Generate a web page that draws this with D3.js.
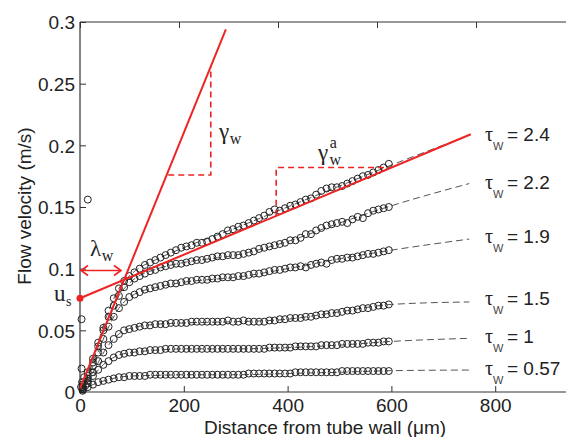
<!DOCTYPE html>
<html><head><meta charset="utf-8">
<script src="https://cdn.jsdelivr.net/npm/d3@7"></script>
<style>body{margin:0;background:#fff}svg{display:block}</style>
</head><body>
<svg id="c" width="566" height="437"></svg>
<script>
const distance = [5,15,25,35,45,55,65,75,85,95,105,115,125,135,145,155,165,175,185,195,205,215,225,235,245,255,265,275,285,295,305,315,325,335,345,355,365,375,385,395,405,415,425,435,445,455,465,475,485,495,505,515,525,535,545,555,565,575,585,595];
const tau24 = [0.006,0.016,0.027,0.040,0.052,0.066,0.076,0.084,0.090,0.094,0.097,0.100,0.103,0.105,0.107,0.109,0.111,0.113,0.115,0.117,0.118,0.119,0.121,0.121,0.122,0.124,0.126,0.128,0.131,0.132,0.134,0.135,0.137,0.139,0.141,0.143,0.146,0.148,0.147,0.149,0.151,0.152,0.154,0.156,0.157,0.160,0.163,0.165,0.166,0.166,0.167,0.169,0.171,0.173,0.175,0.176,0.178,0.180,0.182,0.185];
const tau22 = [0.004,0.013,0.024,0.037,0.050,0.061,0.070,0.078,0.085,0.089,0.092,0.094,0.096,0.098,0.099,0.101,0.102,0.103,0.104,0.104,0.105,0.106,0.107,0.107,0.108,0.109,0.110,0.110,0.111,0.111,0.111,0.112,0.113,0.114,0.116,0.117,0.118,0.119,0.120,0.121,0.123,0.123,0.125,0.128,0.128,0.131,0.133,0.135,0.136,0.137,0.138,0.137,0.140,0.142,0.141,0.145,0.147,0.148,0.149,0.150];
const tau19 = [0.004,0.011,0.021,0.032,0.043,0.053,0.061,0.068,0.073,0.077,0.079,0.081,0.083,0.084,0.085,0.086,0.087,0.088,0.088,0.089,0.090,0.090,0.091,0.091,0.091,0.092,0.092,0.093,0.093,0.093,0.094,0.094,0.095,0.096,0.096,0.097,0.098,0.099,0.099,0.100,0.101,0.101,0.102,0.101,0.103,0.104,0.105,0.104,0.107,0.108,0.108,0.109,0.109,0.110,0.111,0.112,0.112,0.113,0.114,0.115];
const tau15 = [0.003,0.009,0.016,0.025,0.032,0.038,0.043,0.047,0.050,0.051,0.052,0.053,0.054,0.054,0.055,0.055,0.055,0.056,0.056,0.056,0.056,0.057,0.057,0.057,0.057,0.057,0.057,0.057,0.058,0.057,0.057,0.058,0.057,0.057,0.057,0.057,0.058,0.058,0.059,0.059,0.060,0.060,0.060,0.061,0.061,0.062,0.063,0.063,0.064,0.064,0.065,0.066,0.066,0.067,0.068,0.068,0.069,0.070,0.070,0.071];
const tau10 = [0.002,0.007,0.013,0.018,0.022,0.025,0.028,0.030,0.031,0.032,0.032,0.033,0.033,0.034,0.034,0.034,0.035,0.035,0.035,0.035,0.035,0.035,0.035,0.035,0.035,0.035,0.035,0.035,0.035,0.035,0.035,0.035,0.035,0.035,0.035,0.035,0.036,0.036,0.036,0.036,0.036,0.037,0.037,0.037,0.037,0.037,0.038,0.038,0.038,0.038,0.039,0.039,0.039,0.039,0.039,0.040,0.040,0.040,0.041,0.041];
const tau057 = [0.001,0.004,0.006,0.008,0.009,0.010,0.011,0.012,0.012,0.013,0.013,0.013,0.013,0.014,0.014,0.014,0.014,0.014,0.014,0.014,0.014,0.014,0.014,0.014,0.014,0.014,0.014,0.014,0.014,0.014,0.014,0.014,0.015,0.015,0.015,0.015,0.015,0.015,0.015,0.015,0.015,0.016,0.016,0.016,0.016,0.016,0.016,0.016,0.016,0.016,0.017,0.017,0.017,0.017,0.017,0.017,0.017,0.017,0.017,0.017];
const extraX = [3,3,15,4,8,10,6,2];
const extraV = [0.019,0.059,0.156,0.008,0.012,0.005,0.002,0.004];

const fitX = [0,25,50,75,100,150,200,300,400,500,600,750];
const fit24 = [0,0.027,0.060,0.084,0.096,0.108,0.117,0.133,0.150,0.167,0.184,0.208];
const fit22 = [0,0.024,0.056,0.078,0.090,0.100,0.105,0.111,0.122,0.137,0.151,0.169];
const fit19 = [0,0.021,0.048,0.068,0.078,0.085,0.089,0.093,0.100,0.108,0.115,0.124];
const fit15 = [0,0.016,0.035,0.047,0.052,0.055,0.056,0.057,0.059,0.065,0.071,0.073];
const fit10 = [0,0.013,0.024,0.030,0.032,0.034,0.035,0.035,0.036,0.038,0.041,0.0435];
const fit057 = [0,0.006,0.0095,0.012,0.013,0.0135,0.014,0.014,0.015,0.016,0.0173,0.0178];

const tauLabels = ["2.4","2.2","1.9","1.5","1","0.57"];
const tauLabelV = [0.2038,0.1650,0.1205,0.0705,0.0400,0.0138];

const xTicks = [0,200,400,600,800];
const yTicks = [0,0.05,0.1,0.15,0.2,0.25,0.3];

const steepLine = [[0,0.003],[281,0.294]];
const slipLine = [[0,0.076],[753,0.209]];
const gammaTri = [[170,0.176],[252,0.176],[252,0.264]];
const gammaATri = [[378,0.143],[378,0.182],[590,0.182]];
const lambdaArrow = [[0,0.0985],[79,0.0985]];

const svg = d3.select("#c");
const x = d3.scaleLinear().domain([0,1000]).range([80,599]);
const xTop = d3.scaleLinear().domain([0,1000]).range([80,575]);
const y = d3.scaleLinear().domain([0,0.3]).range([392,22]);
const RED = "#ee2424";
const sans = "Arial, 'Liberation Sans', sans-serif";
const serif = "'Times New Roman', 'Liberation Serif', serif";

// frame
svg.append("line").attr("x1",80).attr("x2",566).attr("y1",y(0)).attr("y2",y(0)).attr("stroke","#333").attr("stroke-width",1.2);
svg.append("line").attr("x1",80).attr("x2",566).attr("y1",y(0.3)).attr("y2",y(0.3)).attr("stroke","#333").attr("stroke-width",1.2);
svg.append("line").attr("x1",80).attr("x2",80).attr("y1",y(0)).attr("y2",y(0.3)).attr("stroke","#333").attr("stroke-width",1.2);

// axes
const gx = svg.append("g").attr("transform",`translate(0,${y(0)})`)
  .call(d3.axisBottom(x).tickValues(xTicks).tickSizeInner(-6).tickSizeOuter(0).tickPadding(6.5).tickFormat(d3.format("d")));
const gxt = svg.append("g").attr("transform",`translate(0,${y(0.3)})`)
  .call(d3.axisTop(xTop).tickValues(xTicks).tickSizeInner(-6).tickSizeOuter(0).tickFormat(""));
const gy = svg.append("g").attr("transform","translate(80,0)")
  .call(d3.axisLeft(y).tickValues(yTicks).tickSizeInner(-6).tickSizeOuter(0).tickPadding(5).tickFormat(d=>d===0?"0":String(+d.toFixed(2))));
[gx,gxt,gy].forEach(g=>{
  g.select(".domain").remove();
  g.selectAll(".tick line").attr("stroke","#333").attr("stroke-width",1);
  g.selectAll("text").attr("font-family",sans).attr("font-size",19).attr("fill","#222");
});
gx.selectAll("text").attr("dy","0.71em");
gy.selectAll("text").attr("dy","0.36em");

// fitted dashed curves
const fits = [fit24,fit22,fit19,fit15,fit10,fit057];
const line = d3.line().x(d=>x(d[0])).y(d=>y(d[1])).curve(d3.curveMonotoneX);
fits.forEach(f=>{
  svg.append("path").attr("d",line(fitX.map((xx,i)=>[xx,f[i]])))
    .attr("fill","none").attr("stroke","#555").attr("stroke-width",1).attr("stroke-dasharray","7,4");
});

// data circles
const series = [tau24,tau22,tau19,tau15,tau10,tau057];
series.forEach(s=>{
  svg.append("g").selectAll("circle").data(distance.map((d,i)=>[d,s[i]])).join("circle")
    .attr("cx",d=>x(d[0])).attr("cy",d=>y(d[1])).attr("r",3.5)
    .attr("fill","none").attr("stroke","#222").attr("stroke-width",1);
});
svg.append("g").selectAll("circle").data(extraX.map((d,i)=>[d,extraV[i]])).join("circle")
  .attr("cx",d=>x(d[0])).attr("cy",d=>y(d[1])).attr("r",3.5)
  .attr("fill","none").attr("stroke","#222").attr("stroke-width",1);

// red annotation lines
const straight = d3.line().x(d=>x(d[0])).y(d=>y(d[1]));
svg.append("path").attr("d",straight(steepLine)).attr("stroke",RED).attr("stroke-width",2).attr("fill","none");
svg.append("path").attr("d",straight(slipLine)).attr("stroke",RED).attr("stroke-width",2).attr("fill","none");
svg.append("path").attr("d",straight(gammaTri)).attr("stroke",RED).attr("stroke-width",1.6).attr("fill","none").attr("stroke-dasharray","6,4");
svg.append("path").attr("d",straight(gammaATri)).attr("stroke",RED).attr("stroke-width",1.6).attr("fill","none").attr("stroke-dasharray","6,4");
svg.append("circle").attr("cx",x(slipLine[0][0])).attr("cy",y(slipLine[0][1])).attr("r",3.5).attr("fill",RED);

// lambda arrow
const ax0 = x(lambdaArrow[0][0]), ax1 = x(lambdaArrow[1][0]), ay = y(lambdaArrow[0][1]);
svg.append("line").attr("x1",ax0+1).attr("x2",ax1).attr("y1",ay).attr("y2",ay).attr("stroke",RED).attr("stroke-width",1.6);
svg.append("path").attr("d",`M${ax0+8},${ay-5}L${ax0+1},${ay}L${ax0+8},${ay+5}`).attr("stroke",RED).attr("stroke-width",1.6).attr("fill","none");
svg.append("path").attr("d",`M${ax1-7},${ay-5}L${ax1},${ay}L${ax1-7},${ay+5}`).attr("stroke",RED).attr("stroke-width",1.6).attr("fill","none");

// symbol labels (single text elements with tspans)
function sym(px,py,main,sub,sup,size,subSize){
  const t = svg.append("text").attr("x",px).attr("y",py).attr("font-family",serif).attr("font-size",size).attr("fill","#222");
  t.append("tspan").text(main);
  if(sup){
    t.append("tspan").attr("font-size",subSize).attr("dx",1.5).attr("dy",-12).text(sup);
    t.append("tspan").attr("font-size",subSize).attr("dx",-subSize*0.45).attr("dy",17).text(sub);
  } else if(sub){
    t.append("tspan").attr("font-size",subSize).attr("dx",0.5).attr("dy",5).text(sub);
  }
}
sym(90,256,"λ","w",null,23,16);
sym(54,301,"u","s",null,23,14);
sym(219,139,"γ","w",null,23,16);
sym(318,160,"γ","w","a",23,16);

// tau labels
tauLabels.forEach((lab,i)=>{
  const py = y(tauLabelV[i]);
  const t = svg.append("text").attr("x",485).attr("y",py).attr("fill","#222");
  t.append("tspan").attr("font-family",serif).attr("font-size",20).text("τ");
  t.append("tspan").attr("font-family",sans).attr("font-size",11).attr("fill","#444").attr("dx",0).attr("dy",9).text("W");
  t.append("tspan").attr("font-family",sans).attr("font-size",19).attr("x",507).attr("dy",-9).text("= "+lab);
});

// axis titles
svg.append("text").attr("x",325).attr("y",434).attr("text-anchor","middle").attr("font-family",sans).attr("font-size",19).attr("fill","#222").text("Distance from tube wall (μm)");
svg.append("text").attr("transform","translate(31,206) rotate(-90)").attr("text-anchor","middle").attr("font-family",sans).attr("font-size",19).attr("fill","#222").text("Flow velocity (m/s)");
</script>
</body></html>
